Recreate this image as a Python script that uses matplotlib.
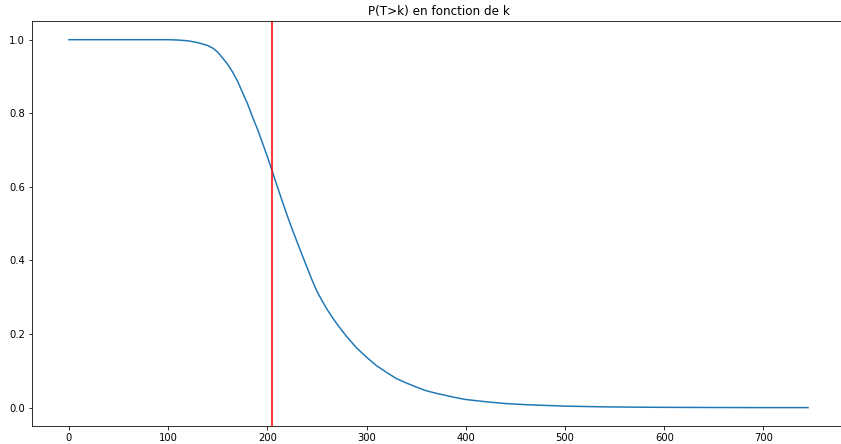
import numpy as np
import matplotlib
matplotlib.use('Agg')
import matplotlib.pyplot as plt

# values
k = [0, 100, 110, 120, 130, 135, 140, 145, 150, 155, 160, 165, 170, 175,
     180, 185, 190, 195, 200, 205, 210, 215, 220, 225, 230, 235, 240, 245,
     250, 255, 260, 265, 270, 275, 280, 290, 300, 310, 320, 330, 340, 350,
     360, 370, 380, 390, 400, 420, 440, 460, 480, 500, 540, 580, 620, 700, 745]
p_survie = [1.0, 1.0, 0.999, 0.997, 0.992, 0.988, 0.984, 0.977, 0.966, 0.95,
            0.933, 0.912, 0.887, 0.856, 0.826, 0.79, 0.757, 0.72, 0.682,
            0.642, 0.601, 0.561, 0.522, 0.485, 0.45, 0.415, 0.381, 0.347,
            0.316, 0.291, 0.268, 0.247, 0.228, 0.21, 0.193, 0.162, 0.137,
            0.114, 0.096, 0.079, 0.067, 0.056, 0.046, 0.039, 0.033, 0.027,
            0.022, 0.016, 0.011, 0.008, 0.006, 0.004, 0.002, 0.001, 0.0005,
            0.0, 0.0]
k_seuil = 205

fig = plt.figure(figsize=(841 / 72, 444 / 72), dpi=72)
ax = fig.add_axes([32 / 841, 18 / 444, 813 / 841, 404.7 / 444])
ax.plot(k, p_survie)
ax.axvline(k_seuil, color='red')
ax.set_title("P(T>k) en fonction de k")

plt.savefig('out.png')
